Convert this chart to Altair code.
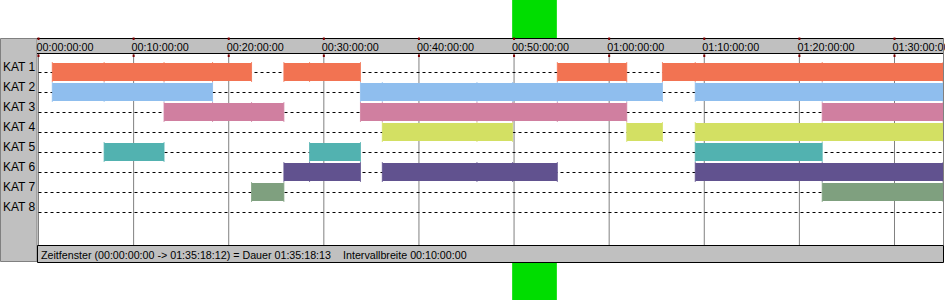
import altair as alt
import pandas as pd

# ---------------- data ----------------
kategorien = ["KAT 1", "KAT 2", "KAT 3", "KAT 4", "KAT 5", "KAT 6", "KAT 7", "KAT 8"]
farben = ["#F27352", "#8FBEEE", "#D07FA0", "#D3E063", "#52B2B0", "#61528F", "#7FA07F", "#A0A0A0"]

# intervals in minutes
balken_kat = [1, 1, 1, 1,
              2, 2, 2,
              3, 3, 3,
              4, 4, 4,
              5, 5, 5,
              6, 6, 6,
              7, 7]
balken_start = [1.45, 25.8, 54.55, 65.6,
                1.45, 33.85, 69.05,
                13.2, 33.85, 82.4,
                36.15, 61.85, 69.05,
                6.9, 28.5, 69.05,
                25.8, 36.15, 69.05,
                22.4, 82.4]
balken_ende = [22.4, 33.85, 61.85, 95.1,
               18.3, 65.6, 95.1,
               25.8, 61.85, 95.1,
               49.85, 65.6, 95.1,
               13.2, 33.85, 82.4,
               33.85, 54.55, 95.1,
               25.8, 95.1]

# interval boundaries (event marks)
grenzen = [1.45, 6.9, 13.2, 18.3, 22.4, 25.8, 28.5, 33.85, 36.15, 46.1,
           49.85, 54.55, 61.85, 65.6, 69.05, 82.4, 95.1]

tick_min = [0, 10, 20, 30, 40, 50, 60, 70, 80, 90]
tick_labels = ["00:00:00:00", "00:10:00:00", "00:20:00:00", "00:30:00:00", "00:40:00:00",
               "00:50:00:00", "01:00:00:00", "01:10:00:00", "01:20:00:00", "01:30:00:00"]

auswahl = [49.8, 54.5]
fenster_ende = 95.1

status_1 = "Zeitfenster (00:00:00:00 -> 01:35:18:12) = Dauer 01:35:18:13"
status_2 = "Intervallbreite 00:10:00:00"

# ---------------- tables ----------------
bars = pd.DataFrame({
    "row": balken_kat,
    "kat": [kategorien[k - 1] for k in balken_kat],
    "start": balken_start,
    "ende": balken_ende,
})
tick_rows = []
for r, s, e in zip(balken_kat, balken_start, balken_ende):
    for g in grenzen:
        if s - 1e-6 <= g <= e + 1e-6:
            tick_rows.append({"row": r, "kat": kategorien[r - 1], "t": g})
seg_ticks = pd.DataFrame(tick_rows)
rows_df = pd.DataFrame({"row": list(range(1, len(kategorien) + 1)), "kat": kategorien,
                        "x0": [0] * len(kategorien), "x1": [fenster_ende] * len(kategorien)})
ticks_df = pd.DataFrame({"t": tick_min, "label": tick_labels})
sel_df = pd.DataFrame({"a": [auswahl[0]], "b": [auswahl[1]]})
one = pd.DataFrame({"a": [0]})

PX0 = 38.5
PPM = 9.5111
xs = alt.Scale(domain=[-PX0 / PPM, (945 - PX0) / PPM], nice=False, zero=False)
ys = alt.Scale(domain=[-2.6, 12.4], reverse=True, nice=False, zero=False)
cs = alt.Scale(domain=kategorien, range=farben)
FONT = "Liberation Sans"


def box(x, x2, y, y2, **kw):
    return alt.Chart(one).mark_rect(**kw).encode(
        x=alt.value(x), x2=alt.value(x2), y=alt.value(y), y2=alt.value(y2))


def line(x, x2, y, y2, color, **kw):
    return alt.Chart(one).mark_rule(color=color, strokeWidth=1, **kw).encode(
        x=alt.value(x), x2=alt.value(x2), y=alt.value(y), y2=alt.value(y2))


green = alt.Chart(sel_df).mark_rect(color="#00DD00").encode(
    x=alt.X("a:Q", scale=xs, axis=None), x2="b:Q",
    y=alt.value(0), y2=alt.value(300))

white = box(0, 945, 38, 262, color="white")
left_panel = box(0.5, 37, 38.5, 261.5, fill="#C0C0C0", stroke="#808080", strokeWidth=1)
header = box(37, 943, 38, 54, color="#C0C0C0")
header_top = line(37, 944, 38.5, 38.5, "black")
header_bot = line(37, 943, 53.5, 53.5, "black")
status = box(37.5, 943.5, 245.5, 262.5, fill="#C0C0C0", stroke="black", strokeWidth=1)
right_border = line(943.5, 943.5, 38, 245, "#808080")

grid = alt.Chart(ticks_df).mark_rule(color="#808080", strokeWidth=1).encode(
    x=alt.X("t:Q", scale=xs, axis=None), y=alt.value(54), y2=alt.value(245))

red_top = alt.Chart(ticks_df).mark_rule(color="#800000", strokeWidth=2).encode(
    x=alt.X("t:Q", scale=xs, axis=None), y=alt.value(37.5), y2=alt.value(40))
red_bot = alt.Chart(ticks_df).mark_rule(color="#800000", strokeWidth=2).encode(
    x=alt.X("t:Q", scale=xs, axis=None), y=alt.value(54.5), y2=alt.value(57))

tick_text = alt.Chart(ticks_df).mark_text(
    align="left", baseline="alphabetic", dx=-2, font=FONT, fontSize=10.8, color="black").encode(
    x=alt.X("t:Q", scale=xs, axis=None), y=alt.value(51), text="label:N")

dashes = alt.Chart(rows_df).mark_rule(color="black", strokeWidth=1, strokeDash=[3, 3], yOffset=0.5).encode(
    x=alt.X("x0:Q", scale=xs, axis=None), x2="x1:Q",
    y=alt.Y("row:Q", scale=ys, axis=None))

seg = alt.Chart(seg_ticks).mark_rule(strokeWidth=1, opacity=0.8).encode(
    x=alt.X("t:Q", scale=xs, axis=None),
    y=alt.Y("y1:Q", scale=ys, axis=None), y2="y2:Q",
    color=alt.Color("kat:N", scale=cs, legend=None)).transform_calculate(
    y1="datum.row - 0.5", y2="datum.row + 0.5")

bar_layer = alt.Chart(bars).mark_rect().encode(
    x=alt.X("start:Q", scale=xs, axis=None), x2="ende:Q",
    y=alt.Y("y1:Q", scale=ys, axis=None), y2="y2:Q",
    color=alt.Color("kat:N", scale=cs, legend=None)).transform_calculate(
    y1="datum.row - 0.45", y2="datum.row + 0.45")

labels = alt.Chart(rows_df).mark_text(
    align="left", baseline="alphabetic", dy=-1, font=FONT, fontSize=12, color="black").encode(
    x=alt.value(3), y=alt.Y("row:Q", scale=ys, axis=None), text="kat:N")

stat1 = alt.Chart(pd.DataFrame({"s": [status_1]})).mark_text(
    align="left", baseline="alphabetic", font=FONT, fontSize=10.7, color="black").encode(
    x=alt.value(41), y=alt.value(258.5), text="s:N")
stat2 = alt.Chart(pd.DataFrame({"s": [status_2]})).mark_text(
    align="left", baseline="alphabetic", font=FONT, fontSize=10.7, color="black").encode(
    x=alt.value(343), y=alt.value(258.5), text="s:N")

chart = alt.layer(
    green, white, left_panel, header, status, grid, dashes, seg, bar_layer,
    header_top, header_bot, red_top, red_bot, tick_text, right_border,
    labels, stat1, stat2
).properties(
    width=945, height=300, padding=0, background="white",
    autosize=alt.AutoSizeParams(type="none")
).configure_view(stroke=None)

chart.save("out.html", embed_options={"renderer": "svg", "actions": False})
